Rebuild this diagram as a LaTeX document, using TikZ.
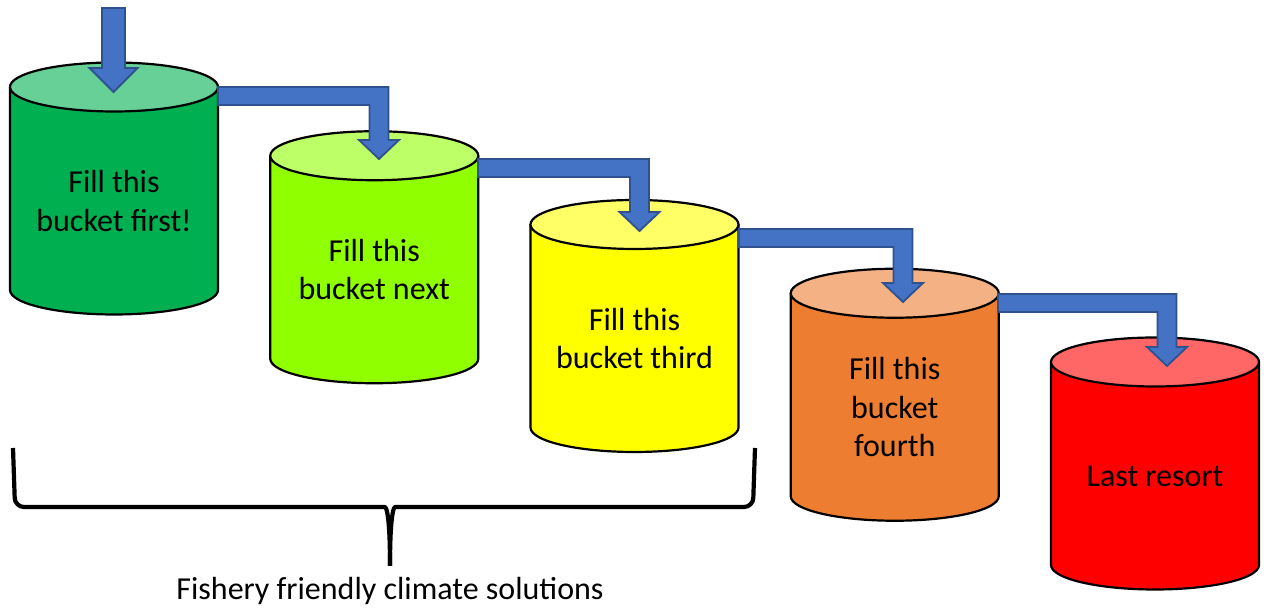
\documentclass[tikz,border=0pt]{standalone}
\usepackage{fontspec}
\setmainfont{Carlito}
\usetikzlibrary{calc}
\definecolor{bucketA}{HTML}{00B050}
\definecolor{bucketB}{HTML}{90FF00}
\definecolor{bucketC}{HTML}{FFFF00}
\definecolor{bucketD}{HTML}{ED7D31}
\definecolor{bucketE}{HTML}{FF0000}
\definecolor{pipeblue}{HTML}{4472C4}
\definecolor{pipeedge}{HTML}{2F528F}
\tikzset{
    bucket/.style={draw=black, line width=2.2pt, line join=round},
    label/.style={font=\fontsize{32}{38.5}\selectfont, align=center, text=black, inner sep=0pt},
    flow/.style={fill=pipeblue, draw=pipeedge, line width=1.8pt, line join=miter},
    brace/.style={draw=black, line width=4.2pt, line join=round, rounded corners=9pt}
}

\begin{document}
\begin{tikzpicture}[x=1pt, y=1pt]
    \useasboundingbox (0,0) rectangle (1264,609);

    % the five buckets
    \foreach \i/\col/\txt in {0/bucketA/{Fill this\\bucket first!}, 1/bucketB/{Fill this\\bucket next}, 2/bucketC/{Fill this\\bucket third}, 3/bucketD/{Fill this\\bucket\\fourth}, 4/bucketE/{Last resort}}{
        \pgfmathsetmacro{\lx}{10+260.25*\i}
        \pgfmathsetmacro{\ty}{522-68.75*\i}
        \draw[bucket, fill=\col] (\lx,\ty) -- ++(0,-203) arc[start angle=180, end angle=360, x radius=104, y radius=24.5] -- ++(0,203) -- cycle;
        \draw[bucket, fill=\col!60!white] (\lx+104,\ty) ellipse[x radius=104, y radius=24.5];
        \node[label] (txt\i) at (\lx+104,\ty-114) {\txt};
    }

    % where the pipes leave and enter
    \coordinate (feed) at (113.5,601);
    \coordinate (in0) at (113.5,517);
    \coordinate (out0) at (218,522);
    \coordinate (in1) at (379,450);
    \coordinate (out1) at (478,450);
    \coordinate (in2) at (639.5,378);
    \coordinate (out2) at (739,380);
    \coordinate (in3) at (903,307);
    \coordinate (out3) at (998,315);
    \coordinate (in4) at (1167,243);

    \draw[flow] let \p1=(feed), \p2=(in0) in (\x1-11.5,\y1) -- (\x1+11.5,\y1) -- (\x1+11.5,\y2+24) -- (\x1+24,\y2+24) -- (\x2,\y2) -- (\x1-24,\y2+24) -- (\x1-11.5,\y2+24) -- cycle;

    \foreach \a/\b in {0/1, 1/2, 2/3, 3/4}
        \draw[flow] let \p1=(out\a), \p2=(in\b) in (\x1,\y1) -- (\x2+9.5,\y1) -- (\x2+9.5,\y2+19) -- (\x2+20,\y2+19) -- (\x2,\y2) -- (\x2-20,\y2+19) -- (\x2-9.5,\y2+19) -- (\x2-9.5,\y1-18) -- (\x1,\y1-18) -- cycle;

    % brace under the first three
    \coordinate (braceL) at (13,161);
    \coordinate (braceR) at (755,161);
    \coordinate (braceTip) at (390,43);
    \draw[brace] (braceL) -- (15,102) -- (376,102) .. controls (386,102) and (390,96) .. (braceTip);
    \draw[brace] (braceTip) .. controls (390,96) and (394,102) .. (404,102) -- (753,102) -- (braceR);
    \node[label, anchor=base] (solutions) at (390,9) {Fishery friendly climate solutions};
\end{tikzpicture}
\end{document}
